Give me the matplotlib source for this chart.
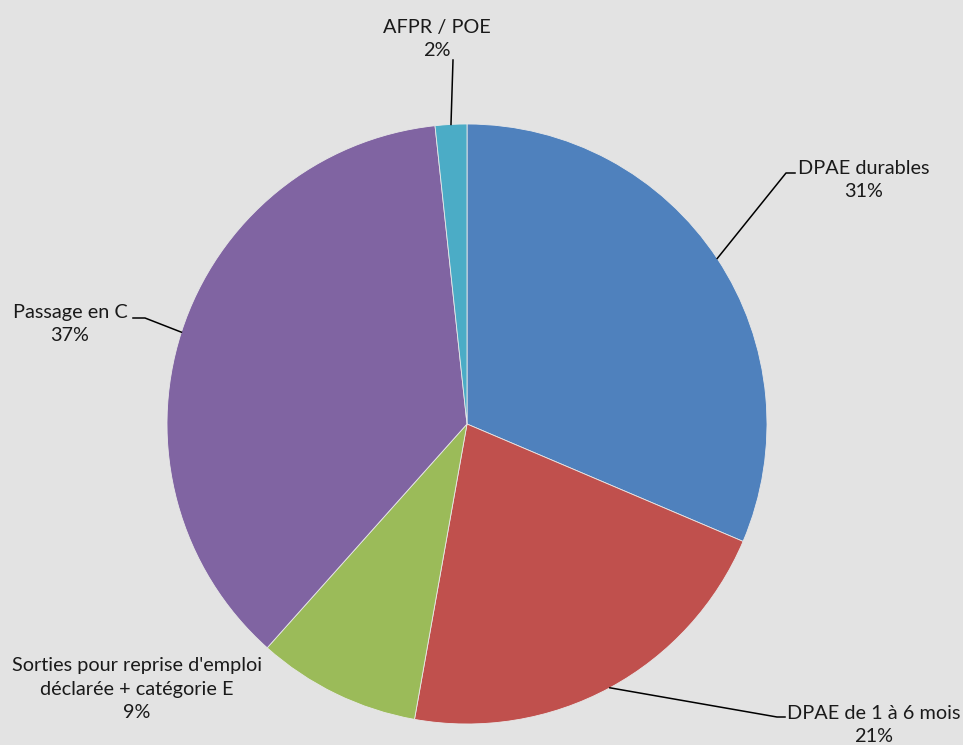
import numpy as np
import matplotlib
matplotlib.use('Agg')
import matplotlib.pyplot as plt

# ── Data ───────────────────────────────────────────────────────────────────
labels = ['DPAE durables', 'DPAE de 1 à 6 mois',
          "Sorties pour reprise d'emploi\ndéclarée + catégorie E",
          'Passage en C', 'AFPR / POE']
values = [31.4, 21.4, 8.8, 36.7, 1.7]
colors = ['#4f81bd', '#c0504d', '#9bbb59', '#8064a2', '#4bacc6']

# ── Layout (pixel coords, y up) ────────────────────────────────────────────
W, H = 963, 745
CX, CY, R = 467, 321, 300
# label anchor, leader elbow, hook end (None = no leader)
label_pos = [(864, 565), (874, 20), (137, 56), (70, 421), (437, 706)]
elbows = [((786, 572), (795, 572)), ((777, 28), (785, 28)), None,
          ((145, 427), (133, 427)), ((453, 685), (453, 685))]

plt.rcParams['font.family'] = ['Lato', 'DejaVu Sans']
fig = plt.figure(figsize=(W / 100, H / 100), dpi=100, facecolor='#e3e3e3')
ax = fig.add_axes([0, 0, 1, 1])
ax.set_facecolor('#e3e3e3')

wedges, _ = ax.pie(values, colors=colors, startangle=90, counterclock=False,
                   center=(CX, CY), radius=R, frame=True,
                   wedgeprops=dict(edgecolor='#e8e8e8', linewidth=0.6))
ax.set_xlim(0, W); ax.set_ylim(0, H)
ax.set_aspect('equal')
ax.axis('off')

for w, lab, v, pos, elb in zip(wedges, labels, values, label_pos, elbows):
    mid = np.deg2rad((w.theta1 + w.theta2) / 2)
    ex, ey = CX + R * np.cos(mid), CY + R * np.sin(mid)
    if elb is not None:
        (x1, y1), (x2, y2) = elb
        ax.plot([ex, x1, x2], [ey, y1, y2], color='black', lw=1.1)
    ax.text(pos[0], pos[1], f'{lab}\n{round(v)}%', ha='center', va='center',
            fontsize=14.3, color='#1a1a1a', linespacing=1.45)

fig.savefig('out.png', dpi=100, facecolor=fig.get_facecolor())
